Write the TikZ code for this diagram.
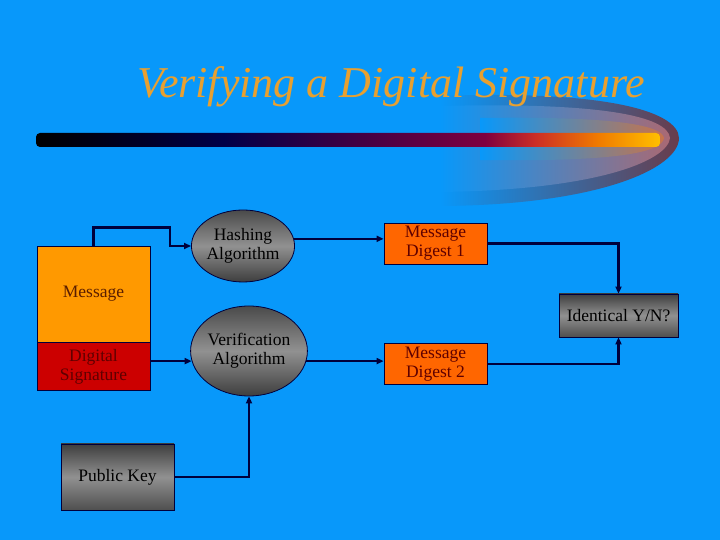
\documentclass[tikz,border=0pt]{standalone}
\usepackage{fontspec}
\setmainfont{Liberation Serif}
\usetikzlibrary{positioning,shapes.geometric,arrows.meta}
\definecolor{bgcol}{RGB}{8,152,250}
\definecolor{titlecol}{RGB}{232,160,48}
\definecolor{linecol}{RGB}{0,0,60}
\definecolor{msgcol}{RGB}{255,153,0}
\definecolor{sigcol}{RGB}{204,0,0}
\definecolor{digcol}{RGB}{255,102,0}
\definecolor{msgtxt}{RGB}{90,30,0}
\definecolor{sigtxt}{RGB}{95,0,0}
\definecolor{rimcol}{RGB}{105,60,75}
\definecolor{glowcol}{RGB}{170,105,115}
\definecolor{corecol}{RGB}{200,115,75}
\definecolor{greydark}{RGB}{62,62,62}
\definecolor{greylight}{RGB}{145,145,145}
\pgfdeclarehorizontalshading{barshade}{100bp}{rgb(0bp)=(0,0,0); rgb(25bp)=(0,0,0);
  rgb(40bp)=(0,0,0.28); rgb(61bp)=(0.5,0,0.25); rgb(65bp)=(0.8,0.18,0.15);
  rgb(70bp)=(0.94,0.48,0); rgb(75bp)=(1,0.75,0); rgb(100bp)=(1,0.75,0)}

\begin{document}
\begin{tikzpicture}[
  x=1pt, y=1pt,
  every node/.style={font=\fontsize{17.5}{19}\selectfont, align=center, inner sep=0pt},
  box/.style={draw=linecol, line width=0.8pt},
  greybox/.style={box, top color=greydark, bottom color=greydark!80!greylight, middle color=greylight},
  blob/.style={ellipse, box, top color=greydark!85!greylight, bottom color=greydark, middle color=greylight},
  arr/.style={-{Triangle[length=7pt,width=6pt]}, line width=2.2pt, linecol}
]
\useasboundingbox[fill=bgcol] (0,0) rectangle (720,540);

% ---------------- title swoosh ----------------
\shade[left color=bgcol, right color=rimcol] (440,444) .. controls (600,450) and (678,430) .. (679,402)
  .. controls (679,372) and (600,335) .. (440,334) -- cycle;
\shade[left color=bgcol, right color=glowcol] (440,434) .. controls (600,438) and (668,424) .. (670,402)
  .. controls (668,380) and (600,350) .. (440,348) -- cycle;
\shade[left color=bgcol, right color=corecol] (480,422) .. controls (620,424) and (662,414) .. (664,402)
  .. controls (662,388) and (620,378) .. (480,380) -- cycle;

\node[font=\fontsize{44}{44}\selectfont\itshape, text=titlecol, anchor=base] (title) at (391,442)
  {Verifying a Digital Signature};
\shade[shading=barshade, rounded corners=4pt] (36,393) rectangle (660,407);

% ---------------- inputs ----------------
\node[box, fill=msgcol, text=msgtxt, minimum width=113pt, minimum height=96pt] (msg) at (93.5,246) {Message};
\node[box, fill=sigcol, text=sigtxt, minimum width=113pt, minimum height=48pt, below=0pt of msg] (sig)
  {Digital\\Signature};
\node[greybox, minimum width=113pt, minimum height=66pt] (key) at (117.5,63) {Public Key};

% ---------------- algorithms ----------------
\node[blob, minimum width=102pt, minimum height=72pt] (hash) at (243,294) {Hashing\\Algorithm};
\node[blob, minimum width=102pt, minimum height=90pt] (verif) at (249,189) {Verification\\Algorithm};

% ---------------- digests / comparison ----------------
\node[box, fill=digcol, text=sigtxt, minimum width=103pt, minimum height=41pt] (md1) at (435.5,296.5)
  {Message\\Digest 1};
\node[box, fill=digcol, text=sigtxt, minimum width=103pt, minimum height=41pt, below=79pt of md1] (md2)
  {Message\\Digest 2};
\node[greybox, minimum width=119pt, minimum height=43pt] (ident) at (618.5,224.5) {Identical Y/N?};

% ---------------- arrows ----------------
\draw[arr] (msg.north) -- ++(0,18) -| ([xshift=-21pt]hash.west) -- (hash.west);
\draw[arr] (hash.8) -- (hash.8 -| md1.west);
\draw[arr] (sig.east |- verif.190) -- (verif.190);
\draw[arr] (verif.-10) -- (verif.-10 -| md2.west);
\draw[arr] (key.east) -| (verif.south);
\draw[arr] (md1.east) -| (ident.north);
\draw[arr] (md2.east) -| (ident.south);

\end{tikzpicture}
\end{document}
